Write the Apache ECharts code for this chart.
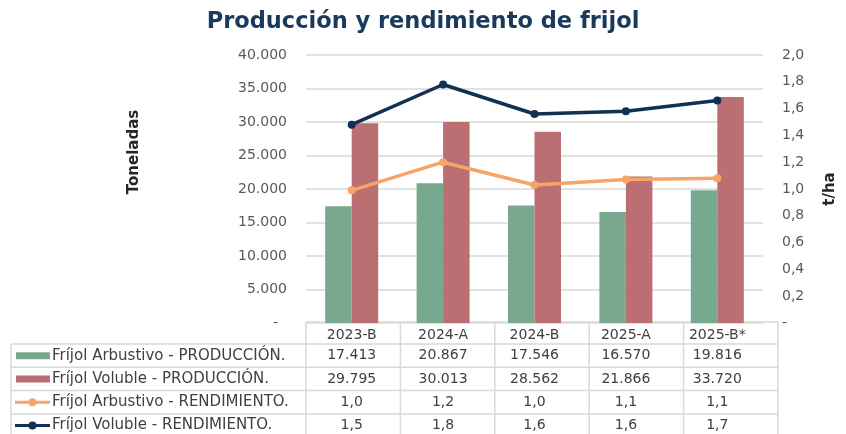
<!DOCTYPE html>
<html>
<head>
<meta charset="utf-8">
<script src="https://cdn.jsdelivr.net/npm/echarts@6/dist/echarts.min.js"></script>
<style>
  html, body { margin: 0; padding: 0; background: #fff; }
  #chart { width: 846px; height: 434px; }
</style>
</head>
<body>
<div id="chart"></div>
<script>
var categories = ['2023-B', '2024-A', '2024-B', '2025-A', '2025-B*'];
var arbustivoProd = [17413, 20867, 17546, 16570, 19816];
var volubleProd = [29795, 30013, 28562, 21866, 33720];
var arbustivoRend = [0.99, 1.20, 1.03, 1.07, 1.08];
var volubleRend = [1.48, 1.78, 1.56, 1.58, 1.66];
var seriesNames = [
    'Fríjol Arbustivo - PRODUCCIÓN.',
    'Fríjol Voluble - PRODUCCIÓN.',
    'Fríjol Arbustivo - RENDIMIENTO.',
    'Fríjol Voluble - RENDIMIENTO.'
];

var FONT = '"DejaVu Sans", sans-serif';
var colors = ['#78a98f', '#bc6f72', '#f8a468', '#0f3154'];

function fmtTon(v) {
    if (v === 0) return '-\u00a0\u00a0';
    return String(Math.round(v)).replace(/\B(?=(\d{3})+(?!\d))/g, '.');
}
function fmtRend(v) {
    if (v === 0) return '-';
    return v.toFixed(1).replace('.', ',');
}

var chart = echarts.init(document.getElementById('chart'));

chart.setOption({
    animation: false,
    textStyle: { fontFamily: FONT },
    title: {
        text: 'Producción y rendimiento de frijol',
        left: 'center',
        top: 6,
        textStyle: { fontSize: 22.5, fontWeight: 'bold', color: '#1a3a5c', fontFamily: FONT }
    },
    grid: { left: 306, right: 68, top: 55, bottom: 111 },
    xAxis: {
        type: 'category',
        data: categories,
        axisLine: { show: false },
        axisTick: { show: false },
        axisLabel: { margin: 5, fontSize: 14, color: '#404040' }
    },
    yAxis: [{
        type: 'value',
        min: 0, max: 40000, interval: 5000,
        axisLabel: { margin: 19, fontSize: 14, color: '#595959', formatter: fmtTon },
        splitLine: { lineStyle: { color: '#d9d9d9', width: 1.5 } }
    }, {
        type: 'value',
        min: 0, max: 2, interval: 0.2,
        name: 't/ha',
        nameLocation: 'middle',
        nameGap: 60,
        nameRotate: 90,
        nameTextStyle: { fontSize: 15, fontWeight: 'bold', color: '#262626' },
        axisLabel: { margin: 19, fontSize: 14, color: '#595959', formatter: fmtRend },
        splitLine: { show: false }
    }],
    series: [{
        name: seriesNames[0], type: 'bar', data: arbustivoProd,
        barWidth: 26.5, barGap: '0%', itemStyle: { color: colors[0] }
    }, {
        name: seriesNames[1], type: 'bar', data: volubleProd,
        barWidth: 26.5, itemStyle: { color: colors[1] }
    }, {
        name: seriesNames[2], type: 'line', yAxisIndex: 1, data: arbustivoRend,
        symbol: 'circle', symbolSize: 8,
        lineStyle: { width: 3.5, color: colors[2] }, itemStyle: { color: colors[2] }
    }, {
        name: seriesNames[3], type: 'line', yAxisIndex: 1, data: volubleRend,
        symbol: 'circle', symbolSize: 8,
        lineStyle: { width: 3.5, color: colors[3] }, itemStyle: { color: colors[3] }
    }]
});

// data table under the plot
var rows = [
    arbustivoProd.map(fmtTon),
    volubleProd.map(fmtTon),
    arbustivoRend.map(fmtRend),
    volubleRend.map(fmtRend)
];
var lineColor = '#d9d9d9';
var gridLeft = 306, gridRight = 778, tableTop = 322, headerBottom = 344, rowH = 23.3;
var keyLeft = 11;
var colW = (gridRight - gridLeft) / categories.length;
var g = [];

function hline(x1, x2, y) {
    g.push({ type: 'line', shape: { x1: x1, y1: y, x2: x2, y2: y }, style: { stroke: lineColor, lineWidth: 1.5 } });
}
function vline(x, y1, y2) {
    g.push({ type: 'line', shape: { x1: x, y1: y1, x2: x, y2: y2 }, style: { stroke: lineColor, lineWidth: 1.5 } });
}

hline(gridLeft, gridRight, tableTop);
for (var r = 0; r <= rows.length; r++) {
    hline(keyLeft, gridRight, headerBottom + r * rowH);
}
vline(keyLeft, headerBottom, 440);
for (var c = 0; c <= categories.length; c++) {
    vline(gridLeft + c * colW, tableTop, 440);
}

rows.forEach(function (vals, i) {
    var cy = headerBottom + i * rowH + rowH / 2;
    // legend key
    if (i < 2) {
        g.push({ type: 'rect', shape: { x: 16, y: cy - 3.5, width: 34, height: 7 }, style: { fill: colors[i] } });
    } else {
        g.push({ type: 'line', shape: { x1: 15, y1: cy, x2: 50, y2: cy }, style: { stroke: colors[i], lineWidth: 3 } });
        g.push({ type: 'circle', shape: { cx: 32.5, cy: cy, r: 4 }, style: { fill: colors[i] } });
    }
    g.push({
        type: 'text', x: 52, y: cy,
        style: { text: seriesNames[i], font: '15px ' + FONT, fill: '#404040', verticalAlign: 'middle' }
    });
    vals.forEach(function (v, j) {
        var cx = chart.convertToPixel({ xAxisIndex: 0 }, categories[j]);
        g.push({
            type: 'text', x: cx, y: cy,
            style: { text: v, font: '14px ' + FONT, fill: '#404040', align: 'center', verticalAlign: 'middle' }
        });
    });
});

g.push({
    type: 'text', x: 134, y: 152, rotation: Math.PI / 2,
    style: { text: 'Toneladas', font: 'bold 15px ' + FONT, fill: '#262626', align: 'center', verticalAlign: 'middle' }
});

chart.setOption({ graphic: g });
</script>
</body>
</html>
